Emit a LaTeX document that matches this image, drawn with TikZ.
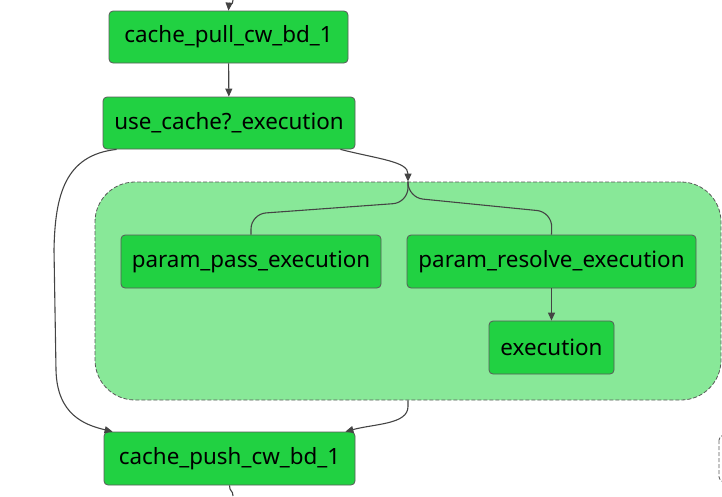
\documentclass[tikz,border=0pt]{standalone}
\usepackage{fontspec}
\setmainfont{Noto Sans}
\usetikzlibrary{arrows.meta}
\definecolor{taskgreen}{HTML}{21D142}
\definecolor{grpgreen}{HTML}{88E898}
\definecolor{edgegray}{HTML}{5A5A5A}
\definecolor{linegray}{HTML}{444444}
\begin{document}
\begin{tikzpicture}[x=1pt,y=-1pt,
    task/.style={draw=edgegray,fill=taskgreen,rounded corners=4pt,line width=0.8pt,
      minimum height=53pt,inner sep=0pt,font=\fontsize{22.4}{27}\selectfont},
    grp/.style={draw=edgegray,fill=grpgreen,rounded corners=40pt,line width=0.8pt,
      dash pattern=on 4pt off 2pt},
    flow/.style={draw=linegray,line width=1.1pt,-{Triangle[length=8pt,width=7pt]}},
    plain/.style={draw=linegray,line width=1.1pt}]
    \useasboundingbox (0,0) rectangle (722,496);
    \clip (0,0) rectangle (722,496);
    \node[grp,minimum width=626pt,minimum height=218pt] (grp) at (408,291) {};
    \draw[edgegray,line width=0.8pt,dash pattern=on 4pt off 2pt,rounded corners=5pt] (719,435) rectangle (780,482);
    \node[task,minimum width=239pt,minimum height=52pt] (pull) at (228.5,37) {cache\_pull\_cw\_bd\_1};
    \node[task,minimum width=252pt,minimum height=52pt] (usec) at (229,123) {use\_cache?\_execution};
    \node[task,minimum width=260pt] (pass) at (251,261.5) {param\_pass\_execution};
    \node[task,minimum width=289pt] (resolve) at (551.5,261.5) {param\_resolve\_execution};
    \node[task,minimum width=125pt] (exec) at (551.5,347.5) {execution};
    \node[task,minimum width=251pt] (push) at (229.5,458.5) {cache\_push\_cw\_bd\_1};
    \coordinate (in) at (233,0);
    \coordinate (out) at (233,496);
    \draw[flow] (in) .. controls (233,6) and (229,4) .. (pull.north);
    \draw[flow] (pull) -- (usec);
    \draw[flow] ([xshift=-15pt]usec.south east) .. controls +(40,10) and +(0,-20) .. (grp.north);
    \draw[plain,rounded corners=15pt] (grp.north) -- ++(0,21) -- (251,214) -- (pass.north);
    \draw[plain,rounded corners=15pt] (grp.north) -- ++(0,16) -- (552,212) -- (resolve.north);
    \draw[flow] (resolve) -- (exec);
    \draw[flow] ([xshift=14pt]usec.south west) .. controls (65,155) and (55,195) .. (54,250)
      -- (56,370) .. controls (57,415) and (85,425) .. ([xshift=9pt]push.north west);
    \draw[flow] (grp.south) -- ++(0,6) .. controls +(0,18) and +(30,-8) .. ([xshift=-10pt]push.north east);
    \draw[plain] (push.south) .. controls (229.5,492) and (233,490) .. (out);
\end{tikzpicture}
\end{document}
